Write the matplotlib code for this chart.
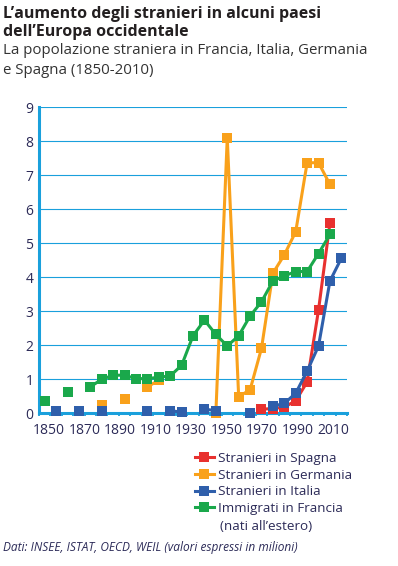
#!/usr/bin/env python3

import numpy as np
import matplotlib
matplotlib.use('Agg')
import matplotlib.pyplot as plt

nan = np.nan

# one slot per census point on the category axis (27 slots)
spagna = [nan] * 19 + [0.12, 0.14, 0.18, 0.37, 0.92, 3.04, 5.6, nan]
germania = [nan, nan, nan, nan, nan, 0.25, nan, 0.43, nan, 0.78, 0.97,
            nan, nan, nan, nan, 0.0, 8.1, 0.49, 0.69, 1.91, 4.12, 4.66,
            5.34, 7.37, 7.37, 6.73, nan]
italia = [nan, 0.08, nan, 0.06, nan, 0.06, nan, nan, nan, 0.06, nan,
          0.08, 0.03, nan, 0.12, 0.08, nan, nan, 0.02, nan, 0.21, 0.29,
          0.59, 1.24, 1.98, 3.89, 4.56]
francia = [0.37, nan, 0.63, nan, 0.78, 1.0, 1.12, 1.12, 1.02, 1.02, 1.06,
           1.10, 1.41, 2.28, 2.74, 2.32, 1.98, 2.28, 2.86, 3.28, 3.89, 4.04,
           4.17, 4.17, 4.70, 5.26, nan]

anni = ['1850', '1870', '1890', '1910', '1930', '1950', '1970', '1990', '2010']
etichette = ['Stranieri in Spagna', 'Stranieri in Germania',
             'Stranieri in Italia', 'Immigrati in Francia']

colori = ['#e8312f', '#f9a11b', '#2f5fab', '#1aa84b']
CYAN = '#1aa0dc'
INK = '#2c2b58'

plt.rcParams['font.family'] = ['Open Sans', 'DejaVu Sans']

fig = plt.figure(figsize=(3.98, 5.66), dpi=100)
ax = fig.add_axes([0.098, 0.2698, 0.774, 0.5406])

x = np.arange(len(francia))
serie = [spagna, germania, italia, francia]
ordine = [1, 2, 3, 4]
for y, c, lab, z in zip(serie, colori, etichette, ordine):
    ax.plot(x, y, color=c, lw=2.2, marker='s', ms=6.8, mew=0,
            label=lab, zorder=z + 2, clip_on=False)

ax.set_xlim(-0.5, len(x) - 0.5)
ax.set_ylim(0, 9)
ax.set_yticks(range(10))
ax.yaxis.grid(True, color=CYAN, lw=0.8)
ax.set_axisbelow(True)
ax.tick_params(axis='y', length=0, pad=4, labelsize=10, labelcolor=INK)

# small tick marks at slot borders, year labels every ~3 slots
ax.set_xticks(np.arange(-0.5, len(x) + 0.5, 1), minor=True)
ax.set_xticks(np.linspace(0.37, 25.3, len(anni)))
ax.set_xticklabels(anni)
ax.tick_params(axis='x', which='major', length=0, pad=7, labelsize=10,
               labelcolor=INK)
ax.tick_params(axis='x', which='minor', length=2.5, width=1.3, color=CYAN,
               direction='out')

for s in ['top', 'right']:
    ax.spines[s].set_visible(False)
for s in ['left', 'bottom']:
    ax.spines[s].set_color(CYAN)
    ax.spines[s].set_linewidth(2.2)

H = 566.0
fig.text(0.008, 1 - 14 / H, "L\u2019aumento degli stranieri in alcuni paesi",
         fontsize=11.5, fontweight='bold', color='#231f20', va='center')
fig.text(0.008, 1 - 32 / H, "dell\u2019Europa occidentale",
         fontsize=11.5, fontweight='bold', color='#231f20', va='center')
fig.text(0.008, 1 - 51 / H, 'La popolazione straniera in Francia, Italia, Germania',
         fontsize=10.8, color='#333333', va='center')
fig.text(0.008, 1 - 70 / H, 'e Spagna (1850-2010)',
         fontsize=10.8, color='#333333', va='center')

leg = ax.legend(loc='upper left', bbox_to_anchor=(0.49, 1 - 452 / H),
                bbox_transform=fig.transFigure, frameon=False,
                fontsize=9.7, handlelength=1.4, handletextpad=0.3,
                labelspacing=0.27, borderpad=0, borderaxespad=0)
for t in leg.get_texts():
    t.set_color(INK)
fig.text(0.553, 1 - 526 / H, '(nati all\u2019estero)', fontsize=9.7, color=INK,
         va='center')

fig.text(0.008, 1 - 547 / H, 'Dati: INSEE, ISTAT, OECD, WEIL (valori espressi in milioni)',
         fontsize=8.6, style='italic', color=INK, va='center')

fig.savefig('out.png', dpi=100)
